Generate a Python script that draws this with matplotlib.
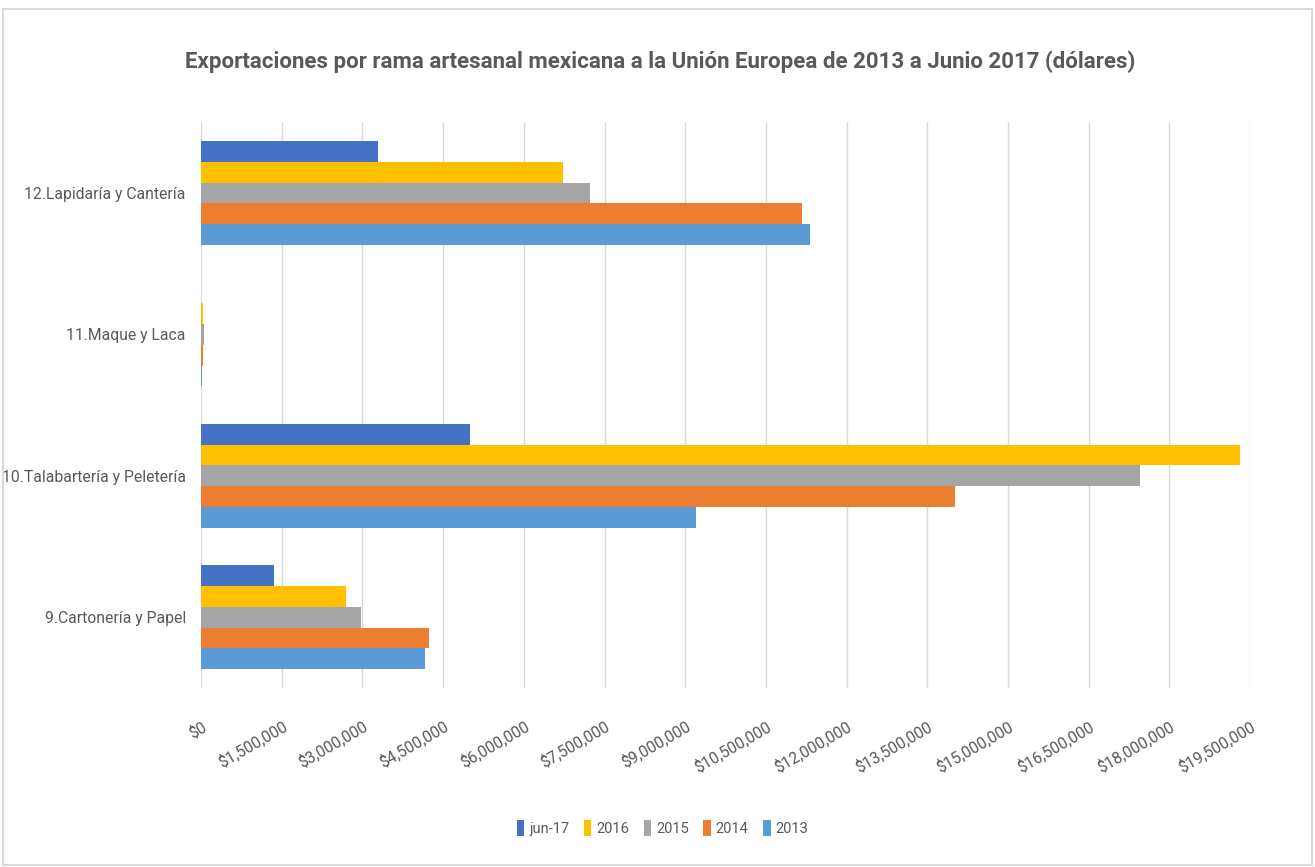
import matplotlib
matplotlib.use("Agg")
import matplotlib.pyplot as plt
from matplotlib.patches import Rectangle
from matplotlib.ticker import FuncFormatter, MultipleLocator
import numpy as np

plt.rcParams['font.family'] = ['Roboto', 'DejaVu Sans']

categories = ["9.Cartonería y Papel", "10.Talabartería y Peletería",
              "11.Maque y Laca", "12.Lapidaría y Cantería"]
series = ["jun-17", "2016", "2015", "2014", "2013"]
jun17 = [1360000, 5000000, 5000, 3290000]
y2016 = [2700000, 19310000, 30000, 6730000]
y2015 = [2970000, 17460000, 60000, 7230000]
y2014 = [4240000, 14020000, 30000, 11170000]
y2013 = [4160000, 9200000, 15000, 11320000]
colors = ["#4472C4", "#FFC000", "#A5A5A5", "#ED7D31", "#5B9BD5"]

values = [jun17, y2016, y2015, y2014, y2013]

fig = plt.figure(figsize=(13.15, 8.67), dpi=100)
ax = fig.add_axes([0.1529, 0.2065, 0.7977, 0.6525])

h = 0.147
pos = np.arange(len(categories))
for k, (name, vals, c) in enumerate(zip(series, values, colors)):
    offset = (2 - k) * h
    ax.barh(pos + offset, vals, height=h, color=c, label=name, zorder=3)

ax.set_xlim(0, 19500000)
ax.set_ylim(-0.5, len(categories) - 0.5)
ax.xaxis.set_major_locator(MultipleLocator(1500000))
ax.xaxis.set_major_formatter(FuncFormatter(lambda v, p: "${:,.0f}".format(v)))
ax.grid(axis="x", color="#D9D9D9", linewidth=1, zorder=0)
ax.set_yticks(pos)
ax.set_yticklabels(categories)
for s in ax.spines.values():
    s.set_visible(False)
ax.tick_params(axis="both", length=0, colors="#595959", labelsize=11.3)
ax.tick_params(axis="x", pad=22)
plt.setp(ax.get_xticklabels(), rotation=30, ha="right", rotation_mode="anchor")
ax.tick_params(axis="y", pad=11)

fig.suptitle("Exportaciones por rama artesanal mexicana a la Unión Europea de 2013 a Junio 2017 (dólares)",
             x=0.502, y=0.929, va="center", fontsize=16, fontweight="bold", color="#595959")

ax.legend(loc="center", bbox_to_anchor=(0.44, -0.248), ncol=5, frameon=False,
          fontsize=10.5, handlelength=0.5, handleheight=1.3, handletextpad=0.35,
          columnspacing=1.0, labelcolor="#595959")

fig.patches.append(Rectangle((0.002, 0.002), 0.996, 0.988, transform=fig.transFigure,
                             fill=False, edgecolor="#D9D9D9", linewidth=1.5))

fig.savefig("out.png", dpi=100)
